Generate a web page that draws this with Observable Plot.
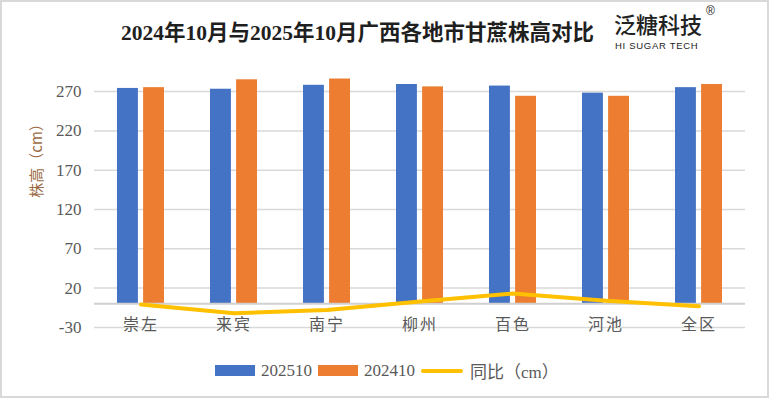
<!DOCTYPE html>
<html>
<head>
<meta charset="utf-8">
<script src="https://cdn.jsdelivr.net/npm/d3@7"></script>
<script src="https://cdn.jsdelivr.net/npm/@observablehq/plot@0.6"></script>
<style>
  html, body { margin: 0; padding: 0; background: #fff; }
  #wrap { position: relative; width: 769px; height: 398px; overflow: hidden; background: #fff; }
  #frame { position: absolute; left: 0; top: 0; width: 769px; height: 398px; box-sizing: border-box; border: 2px solid #d9d9d9; pointer-events: none; }
  #title { position: absolute; left: 0; top: 21px; width: 740px; padding-left: 121px; box-sizing: border-box; font-family: "Liberation Serif", "Times New Roman", "DejaVu Serif", "Noto Sans CJK SC", serif; font-weight: bold; font-size: 21.5px; color: #1f1f1f; white-space: nowrap; line-height: 24px; }
  #logo { position: absolute; left: 614px; top: 11px; width: 110px; height: 42px; font-family: "Noto Sans CJK SC", sans-serif; color: #222; }
  #logo .cn { position: absolute; left: 0; top: 0; font-size: 22px; font-weight: 500; line-height: 24px; }
  #logo .en { position: absolute; left: 1px; top: 30px; font-family: "Liberation Sans", Arial, sans-serif; font-size: 9.5px; letter-spacing: 0.7px; line-height: 9px; }
  #logo .reg { position: absolute; left: 92px; top: -6px; font-family: "Liberation Sans", sans-serif; font-size: 12px; line-height: 12px; }
  #chart { position: absolute; left: 0; top: 56px; }
  #chart g[aria-label="x-axis tick label"] text { letter-spacing: 2px; }
  #chart g[aria-label="y-axis tick label"] text { font-family: "Liberation Serif", "Times New Roman", "DejaVu Serif", serif !important; }
  #legend { position: absolute; left: 215px; top: 358px; display: flex; align-items: center; font-family: "Liberation Serif", "Times New Roman", "DejaVu Serif", "Noto Sans CJK SC", serif; font-size: 17px; color: #595959; white-space: nowrap; }
  #legend .sw { width: 40px; height: 11px; margin-right: 6px; }
  #legend .ln { width: 42px; height: 4px; border-radius: 2px; margin-right: 7px; }
  #legend .item { display: flex; align-items: center; margin-right: 6px; }
</style>
</head>
<body>
<div id="wrap">
  <div id="title"></div>
  <div id="logo"><div class="cn">泛糖科技</div><div class="en">HI SUGAR TECH</div><div class="reg">®</div></div>
  <div id="chart"></div>
  <div id="legend"></div>
  <div id="frame"></div>
</div>
<script>
// ---- data ----
const titleText = "2024年10月与2025年10月广西各地市甘蔗株高对比";
const cities = ["崇左", "来宾", "南宁", "柳州", "百色", "河池", "全区"];
const height202510 = [274, 273, 278, 279, 277, 268, 275];
const height202410 = [275, 285, 286, 276, 264, 264, 279];
const yoy = [-1, -12, -8, 3, 13, 4, -3];
const yTicks = [-30, 20, 70, 120, 170, 220, 270];
const seriesNames = ["202510", "202410", "同比（cm）"];
const yLabel = "株高（cm）";
const colors = ["#4472C4", "#ED7D31", "#FFC000"];

const rows = cities.map((c, i) => ({city: c, a: height202510[i], b: height202410[i], d: yoy[i]}));

document.getElementById("title").textContent = titleText;

const bandW = 47.4, barW = 21.3;
const serifFam = "'Liberation Serif', 'Times New Roman', 'DejaVu Serif', serif";

const chart = Plot.plot({
  width: 769,
  height: 300,
  marginLeft: 94,
  marginRight: 24,
  marginTop: 11.5,
  marginBottom: 29.1,
  style: {fontFamily: serifFam, background: "transparent", overflow: "visible"},
  x: {domain: cities, type: "band", paddingInner: 0.49, paddingOuter: 0.245, axis: null},
  y: {domain: [-30, 300], axis: null},
  marks: [
    Plot.gridY(yTicks, {stroke: "#d9d9d9", strokeOpacity: 1, strokeWidth: 1.5}),
    Plot.axisY(yTicks, {tickSize: 0, tickPadding: 13, fontSize: 17, fill: "#595959", label: null, fontFamily: serifFam, tickFormat: d => String(d).replace("-", "-")}),
    Plot.axisX({tickSize: 0, tickPadding: -9, fontSize: 16, fill: "#595959", label: null, fontFamily: "'Noto Sans CJK SC', sans-serif"}),
    Plot.barY(rows, {x: "city", y: "a", fill: colors[0], insetRight: bandW - barW}),
    Plot.barY(rows, {x: "city", y: "b", fill: colors[1], insetLeft: bandW - barW}),
    Plot.ruleY([0], {stroke: "#d0d0d0", strokeWidth: 2}),
    Plot.line(rows, {x: "city", y: "d", stroke: colors[2], strokeWidth: 4, strokeLinejoin: "round", strokeLinecap: "round"}),
    Plot.text([yLabel], {text: d => d, frameAnchor: "left", dx: -57, rotate: -90, fontSize: 15, fill: "#9c6b45", fontFamily: "'Noto Sans CJK SC', sans-serif"})
  ]
});
document.getElementById("chart").appendChild(chart);

// legend
const lg = document.getElementById("legend");
seriesNames.forEach((name, i) => {
  const it = document.createElement("div");
  it.className = "item";
  const sw = document.createElement("div");
  sw.className = i < 2 ? "sw" : "ln";
  sw.style.background = colors[i];
  const tx = document.createElement("span");
  tx.textContent = name;
  it.appendChild(sw); it.appendChild(tx);
  lg.appendChild(it);
});
</script>
</body>
</html>
